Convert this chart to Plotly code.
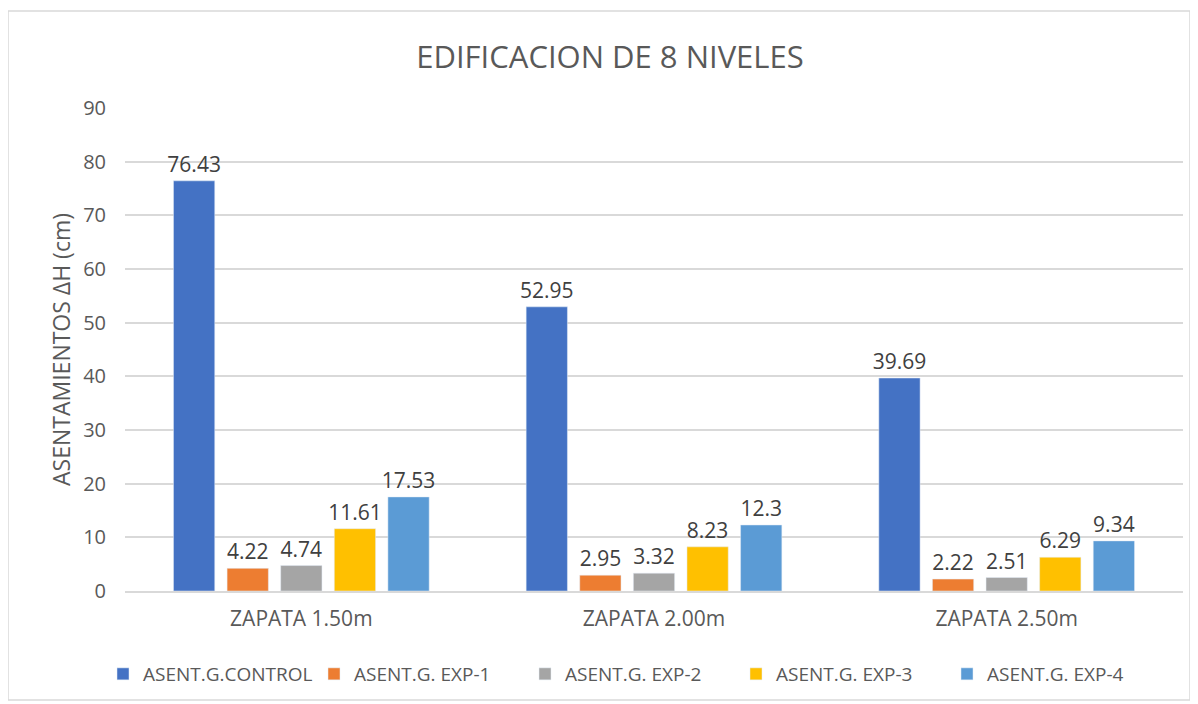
import plotly.graph_objects as go

categories = ["ZAPATA 1.50m", "ZAPATA 2.00m", "ZAPATA 2.50m"]
series_names = ["ASENT.G.CONTROL", "ASENT.G. EXP-1", "ASENT.G. EXP-2", "ASENT.G. EXP-3", "ASENT.G. EXP-4"]
control = [76.43, 52.95, 39.69]
exp1 = [4.22, 2.95, 2.22]
exp2 = [4.74, 3.32, 2.51]
exp3 = [11.61, 8.23, 6.29]
exp4 = [17.53, 12.3, 9.34]
y_ticks = [0, 10, 20, 30, 40, 50, 60, 70, 80, 90]

colors = ["#4472C4", "#ED7D31", "#A5A5A5", "#FFC000", "#5B9BD5"]
values = [control, exp1, exp2, exp3, exp4]

FONT = "Open Sans"
fig = go.Figure()
for name, vals, col in zip(series_names, values, colors):
    fig.add_trace(go.Bar(
        x=categories, y=vals, name=name, marker_color=col,
        text=[str(v) for v in vals], textposition="outside", constraintext="none",
        textfont=dict(size=21, color="#404040", family=FONT),
        cliponaxis=False,
    ))

OFF = 8  # page body offset
W, H = 1198, 704
ml, mr, mt, mb = 125 - OFF, 23, 108 - OFF, 121
pw, ph = W - ml - mr, H - mt - mb

def px_x(p):
    return (p - OFF - ml) / pw

def px_y(p):
    return (H - mb - (p - OFF)) / ph

fig.add_shape(type="rect", xref="paper", yref="paper",
              x0=px_x(8), x1=px_x(1190), y0=px_y(700), y1=px_y(11),
              line=dict(color="#D9D9D9", width=1.5), layer="below")

fig.update_layout(
    width=W, height=H,
    margin=dict(l=ml, r=mr, t=mt, b=mb, autoexpand=False),
    paper_bgcolor="white", plot_bgcolor="white",
    barmode="group", bargap=0.24, bargroupgap=0.23,
    font=dict(family=FONT, color="#595959"),
    title=dict(text="EDIFICACION DE 8 NIVELES", x=(610 - OFF) / W, xref="container", xanchor="center",
               y=1 - (57 - OFF) / H, yref="container", yanchor="middle",
               font=dict(size=31, color="#595959", family=FONT)),
    showlegend=True,
    legend=dict(orientation="h", x=(95) / W, xref="container", xanchor="left",
                y=1 - (674 - OFF) / H, yref="container", yanchor="middle",
                entrywidth=166, entrywidthmode="pixels",
                font=dict(size=19, color="#595959"), traceorder="normal"),
    xaxis=dict(showline=True, linecolor="#D9D9D9", linewidth=1.5, tickfont=dict(size=21, color="#595959"),
               ticks="", showgrid=False, ticklabelstandoff=8),
    yaxis=dict(range=[0, 90], tickvals=y_ticks, showgrid=True, gridcolor="#D9D9D9", gridwidth=1.5,
               zeroline=False, showline=False, tickfont=dict(size=20, color="#595959"), ticklabelstandoff=18,
               title=dict(text="ASENTAMIENTOS ΔH (cm)", font=dict(size=23, color="#595959"), standoff=6)),
)

fig.write_html("out.html")
